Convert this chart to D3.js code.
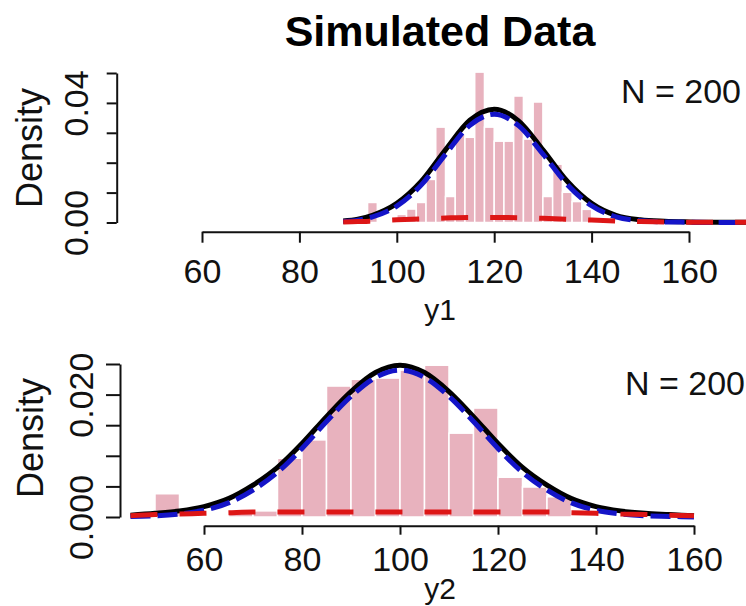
<!DOCTYPE html>
<html>
<head>
<meta charset="utf-8">
<script src="https://cdn.jsdelivr.net/npm/d3@7"></script>
<style>
  html, body { margin: 0; padding: 0; background: #fff; }
  svg { display: block; font-family: "Liberation Sans", Arial, sans-serif; }
</style>
</head>
<body>
<div id="body"></div>
<script>
// ---- data ----
var title = "Simulated Data";
var sampleSize = 200;
var xTicks = [60, 80, 100, 120, 140, 160];

// y1 panel: histogram (bin width 2) and fitted curves
var y1BinStart = [94, 96, 98, 100, 102, 104, 106, 108, 110, 112, 114, 116, 118, 120, 122, 124, 126, 128, 130, 132, 134, 136, 138];
var y1Density  = [0.0067, 0, 0, 0.0027, 0.0045, 0.0067, 0.0144, 0.0319, 0.0087, 0.0295, 0.0285, 0.0503, 0.0319, 0.0272, 0.0272, 0.0423, 0.0279, 0.0403, 0.0087, 0.0195, 0.0101, 0.0070, 0.0044];
var y1BinWidth = 2;
var y1CurveX   = [89, 92, 95, 100, 105, 110, 115, 120, 125, 130, 135, 140, 145, 150, 155, 160, 165, 170, 175];
var y1Total    = [0.0005, 0.0011, 0.0024, 0.0064, 0.0137, 0.0243, 0.0342, 0.0379, 0.0340, 0.0243, 0.0138, 0.0064, 0.0024, 0.0009, 0.0004, 0.0002, 0.0001, 0.0001, 0.0001];
var y1Main     = [0.0003, 0.0008, 0.0019, 0.0055, 0.0125, 0.0228, 0.0325, 0.0362, 0.0324, 0.0229, 0.0127, 0.0056, 0.0019, 0.0006, 0.0002, 0.0001, 0, 0, 0];
var y1Contam   = [0.0002, 0.0003, 0.0005, 0.0009, 0.0012, 0.0015, 0.0017, 0.0017, 0.0016, 0.0014, 0.0011, 0.0008, 0.0005, 0.0003, 0.0002, 0.0001, 0.0001, 0.0001, 0.0001];
var y1Ticks      = [0, 0.01, 0.02, 0.03, 0.04, 0.05];
var y1TickLabels = ["0.00", "", "", "", "0.04", ""];

// y2 panel: histogram (bin width 5) and fitted curves
var y2BinStart = [50, 55, 60, 65, 70, 75, 80, 85, 90, 95, 100, 105, 110, 115, 120, 125, 130];
var y2Density  = [0.0038, 0, 0, 0.0010, 0.0010, 0.0096, 0.0126, 0.0214, 0.0225, 0.0227, 0.0240, 0.0248, 0.0137, 0.0178, 0.0065, 0.0049, 0.0033];
var y2BinWidth = 5;
var y2CurveX   = [45, 50, 55, 60, 65, 70, 75, 80, 85, 90, 95, 100, 105, 110, 115, 120, 125, 130, 135, 140, 145, 150, 155, 160];
var y2Total    = [0.0003, 0.0006, 0.0010, 0.0017, 0.0030, 0.0052, 0.0081, 0.0120, 0.0164, 0.0205, 0.0236, 0.0248, 0.0236, 0.0205, 0.0164, 0.0120, 0.0081, 0.0052, 0.0030, 0.0017, 0.0010, 0.0006, 0.0004, 0.0002];
var y2Main     = [0.0001, 0.0002, 0.0005, 0.0011, 0.0023, 0.0044, 0.0073, 0.0112, 0.0156, 0.0197, 0.0228, 0.0240, 0.0228, 0.0197, 0.0156, 0.0112, 0.0073, 0.0044, 0.0023, 0.0011, 0.0005, 0.0002, 0.0001, 0];
var y2Contam   = [0.0002, 0.0004, 0.0005, 0.0006, 0.0007, 0.0008, 0.0008, 0.0008, 0.0008, 0.0008, 0.0008, 0.0008, 0.0008, 0.0008, 0.0008, 0.0008, 0.0008, 0.0008, 0.0007, 0.0006, 0.0005, 0.0004, 0.0003, 0.0002];
var y2Ticks      = [0, 0.005, 0.01, 0.015, 0.02, 0.025];
var y2TickLabels = ["0.000", "", "", "", "0.020", ""];

var svg = d3.select("#body").append("svg").attr("width", 746).attr("height", 606);

svg.append("text")
  .attr("x", 440).attr("y", 46)
  .attr("text-anchor", "middle")
  .attr("font-size", 43).attr("font-weight", "bold")
  .text(title);

function panel(p){
  var x = d3.scaleLinear().domain([60, 160]).range(p.xRange);
  var y = d3.scaleLinear().domain([0, p.yTicks[p.yTicks.length - 1]]).range(p.yRange);
  var g = svg.append("g");

  // histogram bars
  g.selectAll("rect").data(p.bins).enter().append("rect")
    .attr("x", function(d){ return x(d[0]); })
    .attr("y", function(d){ return y(d[1]); })
    .attr("width", function(d){ return x(d[0] + p.binWidth) - x(d[0]); })
    .attr("height", function(d){ return y(0) - y(d[1]); })
    .attr("fill", "#e8b2be")
    .attr("stroke", "#fff")
    .attr("stroke-width", 1.5);

  var line = d3.line()
    .x(function(d){ return x(d[0]); })
    .y(function(d){ return y(d[1]); })
    .curve(d3.curveMonotoneX);

  g.append("path").attr("d", line(d3.zip(p.curveX, p.total)))
    .attr("fill", "none").attr("stroke", "#000").attr("stroke-width", 5);
  g.append("path").attr("d", line(d3.zip(p.curveX, p.main)))
    .attr("fill", "none").attr("stroke", "#1414c8").attr("stroke-width", 5)
    .attr("stroke-dasharray", "20 7");
  g.append("path").attr("d", line(d3.zip(p.curveX, p.contam)))
    .attr("fill", "none").attr("stroke", "#dd1616").attr("stroke-width", 5)
    .attr("stroke-dasharray", "27 22");

  // axes
  var xa = g.append("g").attr("transform", "translate(0," + p.xAxisY + ")")
    .call(d3.axisBottom(x).tickValues(xTicks).tickSize(p.xTickLen).tickSizeOuter(0));
  xa.selectAll("text").attr("y", p.xLabelOff).attr("dy", 0);

  var ya = g.append("g").attr("transform", "translate(" + p.yAxisX + ",0)")
    .call(d3.axisLeft(y).tickValues(p.yTicks).tickSize(p.yTickLen).tickSizeOuter(0)
      .tickFormat(function(d, i){ return p.yLabels[i]; }));
  ya.selectAll("text")
    .attr("transform", "rotate(-90)")
    .attr("x", 0).attr("y", p.yLabelOff).attr("dy", 0)
    .attr("text-anchor", "middle");

  [xa, ya].forEach(function(a){
    a.attr("font-family", null).attr("font-size", 34);
    a.selectAll("text").attr("fill", "#111");
    a.selectAll("path, line").attr("stroke", "#111").attr("stroke-width", 2);
  });

  g.append("text")
    .attr("transform", "translate(" + p.densX + "," + p.densY + ") rotate(-90)")
    .attr("text-anchor", "middle").attr("font-size", 36).attr("fill", "#111")
    .text("Density");
  g.append("text")
    .attr("x", 440).attr("y", p.nameY)
    .attr("text-anchor", "middle").attr("font-size", 30).attr("fill", "#111")
    .text(p.name);
  g.append("text")
    .attr("x", p.nX).attr("y", p.nY)
    .attr("text-anchor", "end").attr("font-size", 34).attr("fill", "#111")
    .text("N = " + sampleSize);
}

panel({
  bins: d3.zip(y1BinStart, y1Density), binWidth: y1BinWidth,
  curveX: y1CurveX, total: y1Total, main: y1Main, contam: y1Contam,
  yTicks: y1Ticks, yLabels: y1TickLabels, name: "y1",
  xRange: [202, 689], yRange: [222.5, 73],
  xAxisY: 231.7, yAxisX: 116.7, xTickLen: 11, yTickLen: 10,
  xLabelOff: 51, yLabelOff: -28.7,
  densX: 42, densY: 148, nameY: 320, nX: 741, nY: 103
});

panel({
  bins: d3.zip(y2BinStart, y2Density), binWidth: y2BinWidth,
  curveX: y2CurveX, total: y2Total, main: y2Main, contam: y2Contam,
  yTicks: y2Ticks, yLabels: y2TickLabels, name: "y2",
  xRange: [204, 694], yRange: [517, 364],
  xAxisY: 525.7, yAxisX: 120, xTickLen: 9, yTickLen: 14,
  xLabelOff: 45, yLabelOff: -27,
  densX: 43, densY: 438, nameY: 599, nX: 745, nY: 395
});
</script>
</body>
</html>
